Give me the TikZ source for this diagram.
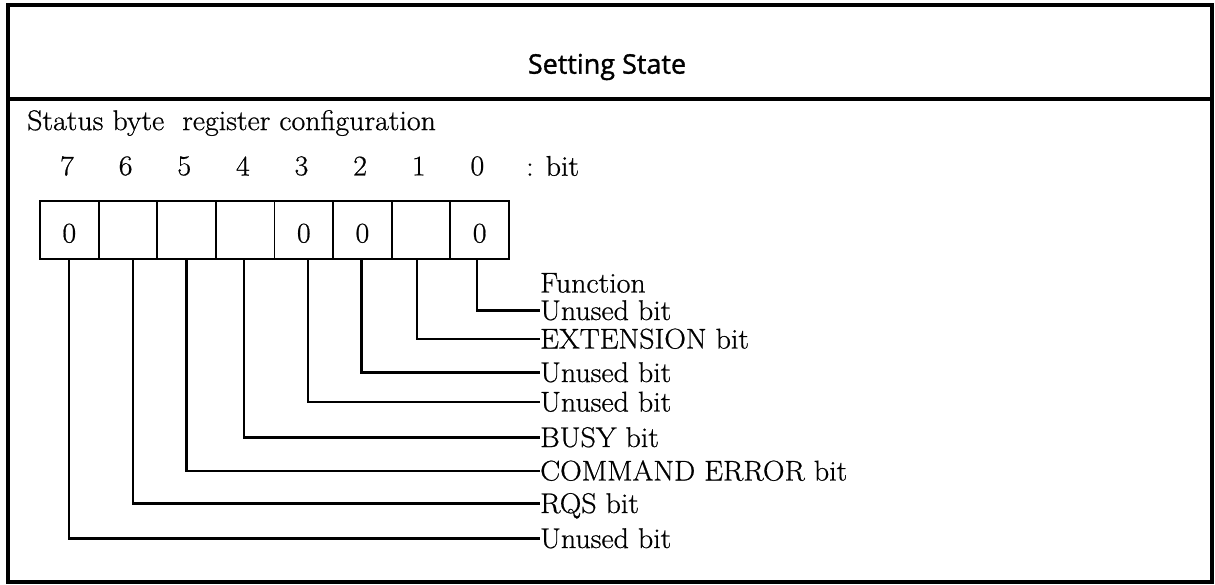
\documentclass[tikz,border=0pt]{standalone}
\usepackage{fontspec}
\newfontfamily\headfont{Open Sans}[FakeBold=1.2]
\newfontfamily\serfam{Latin Modern Roman}[FakeBold=0.7,FakeStretch=1.05]
\newcommand\lblfont{\serfam\fontsize{28.5}{32}\selectfont}
\begin{document}
\begin{tikzpicture}[x=1pt,y=-1pt,
  frame/.style={line width=4.2pt},
  cell/.style={draw, line width=1.8pt, minimum width=58.625pt, minimum height=58pt,
    inner sep=0pt, text height=25pt, text depth=0pt, font=\lblfont},
  lbl/.style={anchor=west, inner sep=0pt, text height=19pt, text depth=0pt, font=\lblfont},
  num/.style={inner sep=0pt, font=\lblfont},
  conn/.style={line width=2.2pt}]
\useasboundingbox (0,0) rectangle (1215,585);
\draw[frame] (8,5) rectangle (1212,582);
\draw[line width=4.5pt] (8,99) -- (1212,99);
\node[font=\headfont\fontsize{27}{32}\selectfont] (title) at (607,67) {Setting State};
\node[anchor=west, inner sep=0pt, font=\lblfont] (cfg) at (27,123) {Status byte\ \ register configuration};
\foreach \b/\v in {7/0,6/,5/,4/,3/0,2/0,1/,0/0}{
  \node[cell] (c\b) at ({69.3+58.625*(7-\b)},230) {\v};
  \node[num] (n\b) at ({67+58.625*(7-\b)},166) {\b};
}
\node[anchor=west, inner sep=0pt, font=\lblfont] (bitlbl) at (526,166) {: bit};
\node[lbl] (fn) at (540,283) {Function};
\foreach \b/\y/\t in {0/310.5/Unused bit,1/339/EXTENSION bit,2/372.5/Unused bit,3/402/Unused bit,
  4/437.5/BUSY bit,5/471/COMMAND ERROR bit,6/503.5/RQS bit,7/538.5/Unused bit}{
  \node[lbl] (l\b) at (540,\y) {\t};
}
\foreach \b/\dx in {7/0,6/5,5/0,4/-1,3/4,2/-1,1/-4,0/-3}{
  \draw[conn] ([xshift=\dx pt]c\b.south) |- (l\b.west);
}
\end{tikzpicture}
\end{document}
